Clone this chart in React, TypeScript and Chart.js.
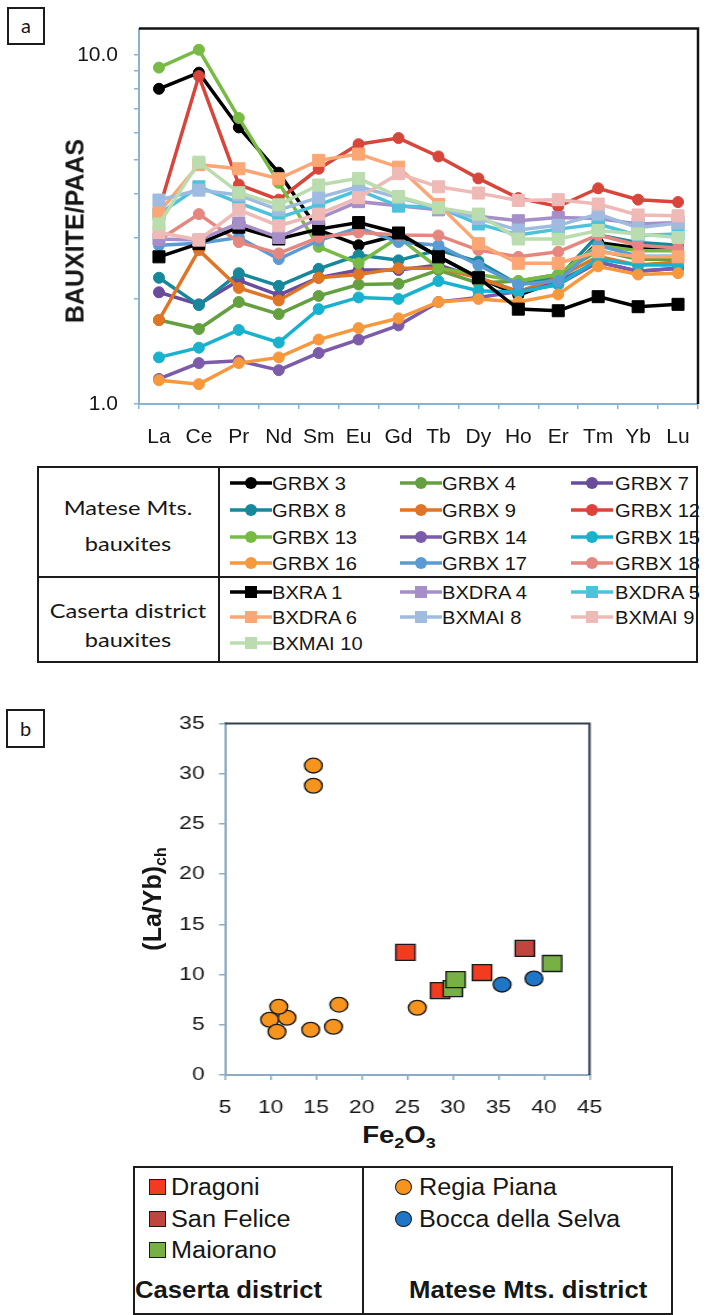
import React, { useEffect, useRef } from 'react';
import { Chart, registerables } from 'chart.js';
Chart.register(...registerables);

// ---------- Panel a data ----------
const REE = ['La', 'Ce', 'Pr', 'Nd', 'Sm', 'Eu', 'Gd', 'Tb', 'Dy', 'Ho', 'Er', 'Tm', 'Yb', 'Lu'];

const GRBX_3 = [8.0, 8.9, 6.2, 4.6, 3.15, 2.85, 3.05, 2.65, 2.3, 2.05, 2.25, 2.9, 2.8, 2.8];
const GRBX_4 = [1.74, 1.64, 1.96, 1.81, 2.04, 2.2, 2.21, 2.42, 2.22, 2.25, 2.35, 2.75, 2.6, 2.6];
const GRBX_7 = [2.09, 1.93, 2.26, 2.05, 2.3, 2.42, 2.42, 2.5, 2.3, 2.1, 2.25, 2.55, 2.4, 2.45];
const GRBX_8 = [2.3, 1.92, 2.37, 2.18, 2.44, 2.67, 2.58, 2.76, 2.56, 2.2, 2.3, 3.05, 2.9, 2.85];
const GRBX_9 = [1.74, 2.76, 2.15, 1.98, 2.3, 2.35, 2.45, 2.45, 2.3, 2.1, 2.3, 2.65, 2.5, 2.55];
const GRBX_12 = [3.6, 8.7, 4.25, 3.85, 4.72, 5.55, 5.78, 5.12, 4.43, 3.89, 3.68, 4.15, 3.85, 3.79];
const GRBX_13 = [9.2, 10.35, 6.6, 4.3, 2.82, 2.53, 3.0, 2.45, 2.35, 2.25, 2.35, 2.85, 2.75, 2.75];
const GRBX_14 = [1.18, 1.31, 1.33, 1.25, 1.4, 1.53, 1.68, 1.96, 2.02, 2.1, 2.2, 2.55, 2.4, 2.45];
const GRBX_15 = [1.36, 1.45, 1.63, 1.5, 1.87, 2.02, 2.0, 2.25, 2.11, 2.09, 2.2, 2.6, 2.5, 2.5];
const GRBX_16 = [1.17, 1.14, 1.31, 1.36, 1.53, 1.65, 1.76, 1.96, 2.0, 1.96, 2.06, 2.48, 2.35, 2.37];
const GRBX_17 = [2.85, 2.89, 3.0, 2.6, 2.94, 3.2, 2.91, 2.85, 2.5, 2.2, 2.25, 2.85, 2.65, 2.65];
const GRBX_18 = [2.95, 3.5, 2.91, 2.7, 3.0, 3.1, 3.05, 3.04, 2.76, 2.64, 2.73, 3.05, 2.85, 2.8];
const BXRA_1 = [2.64, 2.88, 3.21, 2.97, 3.17, 3.31, 3.09, 2.64, 2.3, 1.87, 1.85, 2.03, 1.9, 1.93];
const BXDRA_4 = [2.97, 2.95, 3.3, 3.0, 3.4, 3.8, 3.7, 3.6, 3.45, 3.35, 3.42, 3.4, 3.28, 3.31];
const BXDRA_5 = [3.5, 4.19, 3.77, 3.42, 3.72, 4.1, 3.69, 3.66, 3.28, 3.05, 3.17, 3.28, 3.04, 3.07];
const BXDRA_6 = [3.54, 4.85, 4.72, 4.42, 4.99, 5.2, 4.77, 3.73, 2.88, 2.53, 2.53, 2.73, 2.64, 2.64];
const BXMAI_8 = [3.84, 4.1, 3.97, 3.6, 3.9, 4.2, 3.9, 3.65, 3.4, 3.15, 3.25, 3.5, 3.2, 3.3];
const BXMAI_9 = [3.1, 2.95, 3.6, 3.24, 3.5, 3.9, 4.57, 4.19, 4.02, 3.83, 3.85, 3.74, 3.48, 3.46];
const BXMAI_10 = [3.28, 4.93, 4.03, 3.72, 4.24, 4.43, 3.93, 3.65, 3.5, 2.97, 2.97, 3.14, 3.07, 3.0];

const MATESE_NAMES = ['GRBX 3', 'GRBX 4', 'GRBX 7', 'GRBX 8', 'GRBX 9', 'GRBX 12', 'GRBX 13', 'GRBX 14', 'GRBX 15', 'GRBX 16', 'GRBX 17', 'GRBX 18'];
const MATESE_VALUES = [GRBX_3, GRBX_4, GRBX_7, GRBX_8, GRBX_9, GRBX_12, GRBX_13, GRBX_14, GRBX_15, GRBX_16, GRBX_17, GRBX_18];
const MATESE_COLORS = ['#000000', '#64a040', '#694c9c', '#17889b', '#e07526', '#d8453b', '#78bb44', '#7c5bab', '#18b2cf', '#f7983c', '#5a9bd5', '#e5877f'];

const CASERTA_NAMES = ['BXRA 1', 'BXDRA 4', 'BXDRA 5', 'BXDRA 6', 'BXMAI 8', 'BXMAI 9', 'BXMAI 10'];
const CASERTA_VALUES = [BXRA_1, BXDRA_4, BXDRA_5, BXDRA_6, BXMAI_8, BXMAI_9, BXMAI_10];
const CASERTA_COLORS = ['#000000', '#a68ec9', '#4cc2dd', '#fba673', '#9fbce0', '#efb9b6', '#badcae'];

const Y_LABELS_A: Record<number, string> = { 1: '1.0', 10: '10.0' };

// ---------- Panel b data ----------
const FE_DRAGONI = [24.8, 28.6, 33.2];
const LAYB_DRAGONI = [12.2, 8.4, 10.2];
const FE_SANFELICE = [37.9];
const LAYB_SANFELICE = [12.6];
const FE_MAIORANO = [30.0, 30.3, 40.9];
const LAYB_MAIORANO = [8.6, 9.5, 11.1];
const FE_REGIA = [14.7, 14.7, 9.9, 11.8, 10.7, 10.9, 14.4, 16.9, 17.5, 26.1];
const LAYB_REGIA = [30.8, 28.8, 5.5, 5.7, 4.3, 6.8, 4.5, 4.8, 7.0, 6.7];
const FE_BOCCA = [35.4, 38.9];
const LAYB_BOCCA = [9.0, 9.6];

const B_NAMES = ['Dragoni', 'San Felice', 'Maiorano', 'Regia Piana', 'Bocca della Selva'];
const B_X = [FE_DRAGONI, FE_SANFELICE, FE_MAIORANO, FE_REGIA, FE_BOCCA];
const B_Y = [LAYB_DRAGONI, LAYB_SANFELICE, LAYB_MAIORANO, LAYB_REGIA, LAYB_BOCCA];
const B_COLORS = ['#f23b20', '#c0453f', '#77b144', '#f7941d', '#1f76c6'];
const B_SQUARE = [true, true, true, false, false];

const SANS = '"Liberation Sans", Arial, sans-serif';
const AXIS_A = '#8bb2d1';
const AXIS_B = '#8eabc2';
const STRETCH_B = 1.2;

function frameTopRight(color: string, width: number) {
  return {
    id: 'frameTopRight',
    afterDraw(chart: any) {
      const { ctx, chartArea: a } = chart;
      ctx.save();
      ctx.strokeStyle = color;
      ctx.lineWidth = width;
      ctx.beginPath();
      ctx.moveTo(a.left, a.top);
      ctx.lineTo(a.right, a.top);
      ctx.lineTo(a.right, a.bottom);
      ctx.stroke();
      ctx.restore();
    },
  };
}

function Txt(props: { x: number; y: number; size: number; children: any; bold?: boolean; family?: string; sx?: number; center?: boolean; w?: number }) {
  const { x, y, size, bold, family, sx = 1, center, w } = props;
  return (
    <div
      style={{
        position: 'absolute',
        left: x,
        top: y,
        width: w,
        textAlign: center ? 'center' : 'left',
        fontFamily: family || SANS,
        fontSize: size,
        fontWeight: bold ? 'bold' : 'normal',
        lineHeight: 1,
        whiteSpace: 'nowrap',
        color: '#161616',
        transform: `translateY(-50%) scaleX(${sx})`,
        transformOrigin: center ? 'center center' : 'left center',
      }}
    >
      {props.children}
    </div>
  );
}

function LineMarker({ color, square }: { color: string; square: boolean }) {
  return (
    <svg width={42} height={16} style={{ display: 'block' }}>
      <line x1={0} y1={8} x2={42} y2={8} stroke={color} strokeWidth={3.5} />
      {square ? <rect x={15} y={2} width={12} height={12} fill={color} /> : <circle cx={21} cy={8} r={6} fill={color} />}
    </svg>
  );
}

function Box({ l, t, w, h }: { l: number; t: number; w: number; h: number }) {
  return <div style={{ position: 'absolute', left: l, top: t, width: w, height: h, background: '#1c1c1c' }} />;
}

export default function App() {
  const refA = useRef<HTMLCanvasElement>(null);
  const refB = useRef<HTMLCanvasElement>(null);

  useEffect(() => {
    document.body.style.margin = '0';
    const names = [...MATESE_NAMES, ...CASERTA_NAMES];
    const values = [...MATESE_VALUES, ...CASERTA_VALUES];
    const colors = [...MATESE_COLORS, ...CASERTA_COLORS];
    const datasetsA = names.map((n, i) => {
      const sq = i >= MATESE_NAMES.length;
      return {
        label: n,
        data: values[i],
        borderColor: colors[i],
        backgroundColor: colors[i],
        pointBackgroundColor: colors[i],
        pointBorderColor: colors[i],
        borderWidth: 3.5,
        pointStyle: sq ? 'rect' : 'circle',
        pointRadius: sq ? 8.5 : 5.5,
        pointBorderWidth: 1,
        tension: 0,
        order: -i,
      };
    });

    const chartA = new Chart(refA.current!, {
      type: 'line',
      data: { labels: REE, datasets: datasetsA as any },
      options: {
        animation: false,
        responsive: false,
        events: [],
        layout: { padding: { top: 20, right: 24, left: 0, bottom: 0 } },
        plugins: { legend: { display: false }, tooltip: { enabled: false } },
        scales: {
          x: {
            type: 'category',
            offset: true,
            grid: { offset: true, drawOnChartArea: false, drawTicks: true, tickLength: 5, color: AXIS_A, lineWidth: 1.5 },
            border: { color: AXIS_A, width: 2 },
            ticks: { font: { family: SANS, size: 21 }, color: '#161616', padding: 16, maxRotation: 0, autoSkip: false },
            afterFit: (s: any) => { s.height = 46; },
          },
          y: {
            type: 'logarithmic',
            min: 1,
            max: 11.9,
            afterBuildTicks: (s: any) => { s.ticks = s.ticks.filter((t: any) => t.value <= 10.0001); },
            grid: { drawOnChartArea: false, drawTicks: true, tickLength: 5, color: AXIS_A, lineWidth: 1.5 },
            border: { color: AXIS_A, width: 2 },
            ticks: {
              autoSkip: false,
              font: { family: SANS, size: 21 },
              color: '#161616',
              padding: 16,
              callback: (v: any) => {
                const key = Math.round(Number(v) * 1000) / 1000;
                return Y_LABELS_A[key] ?? '';
              },
            },
            afterFit: (s: any) => { s.width = 139; },
          },
        },
      },
      plugins: [frameTopRight('#141414', 2.5)],
    } as any);

    const datasetsB = B_NAMES.map((n, i) => ({
      label: n,
      data: B_X[i].map((x, j) => ({ x, y: B_Y[i][j] })),
      backgroundColor: B_COLORS[i],
      borderColor: '#1a1a1a',
      pointBackgroundColor: B_COLORS[i],
      pointBorderColor: '#1a1a1a',
      pointBorderWidth: 1.3,
      pointStyle: B_SQUARE[i] ? 'rect' : 'circle',
      pointRadius: B_SQUARE[i] ? 11.3 : 7.4,
      showLine: false,
      order: -i,
    }));

    const chartB = new Chart(refB.current!, {
      type: 'scatter',
      data: { datasets: datasetsB as any },
      options: {
        animation: false,
        responsive: false,
        events: [],
        layout: { padding: { top: 22, right: 108.75, left: 0, bottom: 0 } },
        plugins: { legend: { display: false }, tooltip: { enabled: false } },
        scales: {
          x: {
            type: 'linear',
            min: 5,
            max: 45,
            grid: { drawOnChartArea: false, drawTicks: true, tickLength: 5, color: AXIS_B, lineWidth: 1.5 },
            border: { color: AXIS_B, width: 2 },
            ticks: { stepSize: 5, font: { family: SANS, size: 19 }, color: '#161616', padding: 16, maxRotation: 0 },
            afterFit: (s: any) => { s.height = 45; },
          },
          y: {
            type: 'linear',
            min: 0,
            max: 35,
            grid: { drawOnChartArea: false, drawTicks: true, tickLength: 5, color: AXIS_B, lineWidth: 1.5 },
            border: { color: AXIS_B, width: 2 },
            ticks: { stepSize: 5, font: { family: SANS, size: 19 }, color: '#161616', padding: 12 },
            afterFit: (s: any) => { s.width = 187.5; },
          },
        },
      },
      plugins: [frameTopRight('#33414b', 2)],
    } as any);

    return () => {
      chartA.destroy();
      chartB.destroy();
    };
  }, []);

  const mateseRowY = (r: number) => 483 + 26.8 * r;
  const casertaRowY = (r: number) => 591.5 + 25.9 * r;
  const colMarkX = [230, 400, 571];
  const colTextX = [272, 442, 615];

  return (
    <div style={{ position: 'relative', width: 722, height: 1315, background: '#fff', overflow: 'hidden' }}>
      {/* ----- panel a ----- */}
      <div style={{ position: 'absolute', left: 7, top: 7, width: 38, height: 38, border: '2px solid #1c1c1c', boxSizing: 'border-box' }} />
      <Txt x={7} y={25} w={38} center size={20} family="Lato, sans-serif">a</Txt>
      <canvas ref={refA} width={722} height={450} style={{ position: 'absolute', left: 0, top: 0, width: 722, height: 450 }} />
      <div
        style={{
          position: 'absolute', left: 75, top: 231, transform: 'translate(-50%, -50%) rotate(-90deg)',
          fontFamily: SANS, fontWeight: 'bold', fontSize: 25, whiteSpace: 'nowrap', color: '#161616', lineHeight: 1,
        }}
      >
        BAUXITE/PAAS
      </div>

      {/* legend a */}
      <div style={{ position: 'absolute', left: 37, top: 466, width: 661, height: 197, border: '2px solid #1c1c1c', boxSizing: 'border-box' }} />
      <Box l={218} t={466} w={2} h={197} />
      <Box l={37} t={576} w={661} h={2} />
      <Txt x={37} y={507} w={182} center size={20} sx={1.18} family="Lato, sans-serif">Matese Mts.</Txt>
      <Txt x={37} y={543} w={182} center size={20} sx={1.18} family="Lato, sans-serif">bauxites</Txt>
      <Txt x={37} y={610} w={182} center size={20} sx={1.18} family="Lato, sans-serif">Caserta district</Txt>
      <Txt x={37} y={639} w={182} center size={20} sx={1.18} family="Lato, sans-serif">bauxites</Txt>
      {MATESE_NAMES.map((n, i) => {
        const r = Math.floor(i / 3), c = i % 3;
        const y = mateseRowY(r);
        return (
          <React.Fragment key={n}>
            <div style={{ position: 'absolute', left: colMarkX[c], top: y - 8 }}>
              <LineMarker color={MATESE_COLORS[i]} square={false} />
            </div>
            <Txt x={colTextX[c]} y={y} size={19} sx={1.06}>{n}</Txt>
          </React.Fragment>
        );
      })}
      {CASERTA_NAMES.map((n, i) => {
        const r = Math.floor(i / 3), c = i % 3;
        const y = casertaRowY(r);
        return (
          <React.Fragment key={n}>
            <div style={{ position: 'absolute', left: colMarkX[c], top: y - 8 }}>
              <LineMarker color={CASERTA_COLORS[i]} square={true} />
            </div>
            <Txt x={colTextX[c]} y={y} size={19} sx={1.06}>{n}</Txt>
          </React.Fragment>
        );
      })}

      {/* ----- panel b ----- */}
      <div style={{ position: 'absolute', left: 6, top: 709, width: 39, height: 39, border: '2px solid #1c1c1c', boxSizing: 'border-box' }} />
      <Txt x={6} y={728} w={39} center size={20} family="Lato, sans-serif">b</Txt>
      <canvas
        ref={refB}
        width={600}
        height={420}
        style={{ position: 'absolute', left: 0, top: 700, width: 600, height: 420, transform: `scaleX(${STRETCH_B})`, transformOrigin: '0 0' }}
      />
      <div
        style={{
          position: 'absolute', left: 154, top: 899, transform: 'translate(-50%, -50%) rotate(-90deg)',
          fontFamily: SANS, fontWeight: 'bold', fontSize: 25, whiteSpace: 'nowrap', color: '#161616', lineHeight: 1,
        }}
      >
        (La/Yb)<sub style={{ fontSize: 16, verticalAlign: -5 }}>ch</sub>
      </div>
      <div
        style={{
          position: 'absolute', left: 399, top: 1137, transform: 'translate(-50%, -50%) scaleX(1.2)',
          fontFamily: SANS, fontWeight: 'bold', fontSize: 23, whiteSpace: 'nowrap', color: '#161616', lineHeight: 1,
        }}
      >
        Fe<sub style={{ fontSize: 15, verticalAlign: -5 }}>2</sub>O<sub style={{ fontSize: 15, verticalAlign: -5 }}>3</sub>
      </div>

      {/* legend b */}
      <div style={{ position: 'absolute', left: 133, top: 1166, width: 540, height: 149, border: '2px solid #1c1c1c', boxSizing: 'border-box' }} />
      <Box l={362} t={1166} w={2} h={149} />
      {[0, 1, 2].map((i) => (
        <React.Fragment key={B_NAMES[i]}>
          <div style={{ position: 'absolute', left: 149, top: 1187 + 31.5 * i - 8, width: 17, height: 16, background: B_COLORS[i], border: '1px solid #1a1a1a', boxSizing: 'border-box' }} />
          <Txt x={171} y={1187 + 31.5 * i} size={23} sx={1.1}>{B_NAMES[i]}</Txt>
        </React.Fragment>
      ))}
      {[3, 4].map((i, k) => (
        <React.Fragment key={B_NAMES[i]}>
          <div style={{ position: 'absolute', left: 395, top: 1187 + 31.5 * k - 8, width: 17, height: 16, borderRadius: '50%', background: B_COLORS[i], border: '1.3px solid #1a1a1a', boxSizing: 'border-box' }} />
          <Txt x={419} y={1187 + 31.5 * k} size={23} sx={1.1}>{B_NAMES[i]}</Txt>
        </React.Fragment>
      ))}
      <Txt x={135} y={1290} size={24} bold sx={1.07}>Caserta district</Txt>
      <Txt x={409} y={1290} size={24} bold sx={1.07}>Matese Mts. district</Txt>
    </div>
  );
}
